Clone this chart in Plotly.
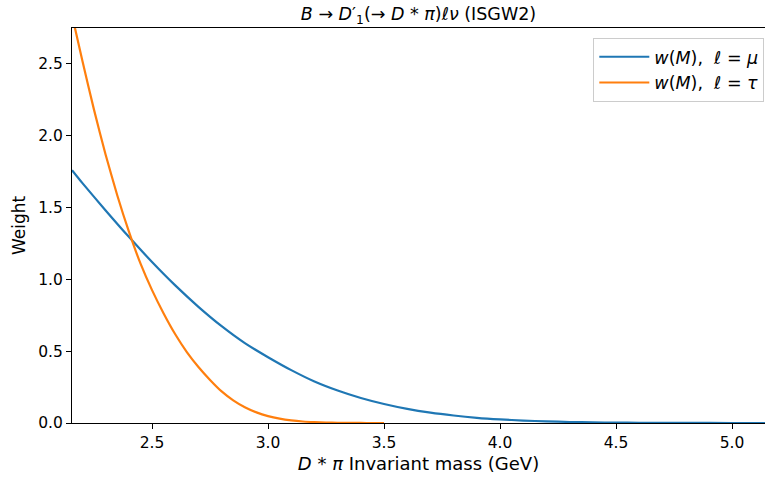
import plotly.graph_objects as go

# Blue: l = mu
mass_mu = [2.155, 2.2, 2.3, 2.4, 2.5, 2.6, 2.7, 2.8, 2.9, 3.0, 3.1, 3.2, 3.3, 3.4,
           3.5, 3.6, 3.7, 3.8, 3.9, 4.0, 4.1, 4.2, 4.3, 4.4, 4.5, 4.6, 4.7, 4.8, 5.0, 5.17]
w_mu = [1.76, 1.67, 1.48, 1.296, 1.121, 0.958, 0.809, 0.674, 0.556, 0.458, 0.368, 0.289, 0.226, 0.174,
        0.132, 0.098, 0.072, 0.052, 0.036, 0.025, 0.017, 0.011, 0.007, 0.0045, 0.0027, 0.0016, 0.0009, 0.0005, 0.0001, 0.0]

# Orange: l = tau
mass_tau = [2.155, 2.2, 2.25, 2.3, 2.35, 2.4, 2.45, 2.5, 2.55, 2.6, 2.65, 2.7, 2.75, 2.8,
            2.85, 2.9, 2.95, 3.0, 3.05, 3.1, 3.15, 3.2, 3.25, 3.3, 3.35, 3.4, 3.45, 3.5]
w_tau = [2.84, 2.52, 2.18, 1.868, 1.586, 1.334, 1.111, 0.925, 0.763, 0.618, 0.494, 0.39, 0.30, 0.22,
         0.158, 0.11, 0.074, 0.048, 0.030, 0.018, 0.0105, 0.006, 0.0032, 0.0016, 0.0007, 0.0003, 0.0001, 0.0]

x_range = [2.155, 5.142]
y_range = [0, 2.75]
x_ticks = [2.5, 3.0, 3.5, 4.0, 4.5, 5.0]
y_ticks = [0.0, 0.5, 1.0, 1.5, 2.0, 2.5]

FONT = "DejaVu Sans"

fig = go.Figure()
fig.add_trace(go.Scatter(
    x=mass_mu, y=w_mu, mode="lines",
    line=dict(color="#1f77b4", width=2.2, shape="spline", smoothing=0.6),
    name="<i>w</i>(<i>M</i>),&nbsp; <i>ℓ</i> = <i>μ</i>",
))
fig.add_trace(go.Scatter(
    x=mass_tau, y=w_tau, mode="lines",
    line=dict(color="#ff7f0e", width=2.2, shape="spline", smoothing=0.6),
    name="<i>w</i>(<i>M</i>),&nbsp; <i>ℓ</i> = <i>τ</i>",
))

fig.update_layout(
    width=765, height=480,
    margin=dict(l=72, r=0, t=28, b=57),
    paper_bgcolor="white", plot_bgcolor="white",
    font=dict(family=FONT, size=15.5, color="black"),
    title=dict(
        text="<i>B</i> → <i>D</i>′<sub>1</sub>(→ <i>D</i> * <i>π</i>)<i>ℓν</i> (ISGW2)",
        x=0.5 * (72 + 765) / 765, xanchor="center",
        y=1 - 14 / 480, yanchor="middle",
        font=dict(size=17.5),
    ),
    showlegend=True,
    legend=dict(
        x=0.999, xanchor="right", y=0.975, yanchor="top",
        bgcolor="rgba(255,255,255,0.8)", bordercolor="#cccccc", borderwidth=1,
        font=dict(size=17.5), itemwidth=50, tracegroupgap=2,
    ),
    xaxis=dict(
        range=x_range, tickvals=x_ticks, ticktext=[f"{v:.1f}" for v in x_ticks],
        showgrid=False, zeroline=False,
        showline=True, linecolor="black", linewidth=1.2, mirror=True,
        ticks="outside", ticklen=5, tickwidth=1.2, tickcolor="black",
        title=dict(text="<i>D</i>&nbsp;*&nbsp;<i>π</i> Invariant mass (GeV)", font=dict(size=18), standoff=6),
    ),
    yaxis=dict(
        range=y_range, tickvals=y_ticks, ticktext=[f"{v:.1f}" for v in y_ticks],
        showgrid=False, zeroline=False,
        showline=True, linecolor="black", linewidth=1.2,
        ticks="outside", ticklen=5, tickwidth=1.2, tickcolor="black",
        title=dict(text="Weight", font=dict(size=17), standoff=8),
    ),
)

fig.write_html("out.html")
